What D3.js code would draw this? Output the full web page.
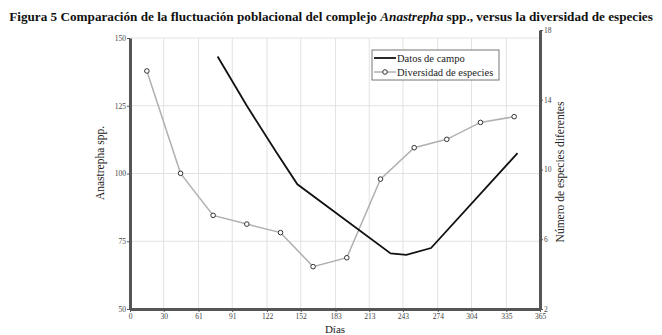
<!DOCTYPE html>
<html lang="es">
<head>
<meta charset="UTF-8">
<title>Figura 5</title>
<style>
  body { margin: 0; background: #fff; }
  svg text { font-family: "Liberation Serif", "DejaVu Serif", serif; }
</style>
</head>
<body>
<script src="https://d3js.org/d3.v7.min.js"></script>
<script>
// datos
const xTicks = [0, 30, 61, 91, 122, 152, 183, 213, 243, 274, 304, 335, 365];
const leftTicks = [50, 75, 100, 125, 150];
const rightTicks = [2, 6, 10, 14, 18];

const campoDias = [78, 104, 130, 149, 232, 246, 268, 345];
const campoVal = [143.2, 125, 108, 96, 70.5, 70, 72.5, 107.5];

const divDias = [15, 45, 74, 104, 134, 163, 193, 223, 253, 282, 312, 342];
const divVal = [15.65, 9.78, 7.37, 6.87, 6.38, 4.43, 4.94, 9.45, 11.25, 11.73, 12.7, 13.03];

const W = 662, H = 335;
const svg = d3.select("body").append("svg")
    .attr("width", W).attr("height", H);

// titulo
const title = svg.append("text")
    .attr("x", 331).attr("y", 21)
    .attr("text-anchor", "middle")
    .attr("font-weight", "bold")
    .attr("font-size", 13.2)
    .attr("fill", "#111");
title.append("tspan").text("Figura 5 Comparación de la fluctuación poblacional del complejo ");
title.append("tspan").attr("font-style", "italic").text("Anastrepha");
title.append("tspan").text(" spp., versus la diversidad de especies");

const x = d3.scaleLinear().domain([0, 365]).range([130, 540]);
const yL = d3.scaleLinear().domain([50, 150]).range([309, 38]);
const yR = d3.scaleLinear().domain([2, 18]).range([309, 30]);

// rejilla
svg.append("g").selectAll("line").data(xTicks).enter().append("line")
    .attr("x1", d => x(d)).attr("x2", d => x(d))
    .attr("y1", yL(150)).attr("y2", yL(50))
    .attr("stroke", "#e2e2e2").attr("stroke-width", 1);
svg.append("g").selectAll("line").data(leftTicks).enter().append("line")
    .attr("x1", x(0)).attr("x2", x(365))
    .attr("y1", d => yL(d)).attr("y2", d => yL(d))
    .attr("stroke", "#e2e2e2").attr("stroke-width", 1);

// ejes
function styleAxis(g) {
    g.attr("font-family", null);
    g.select(".domain").attr("stroke", "#555").attr("stroke-width", 3);
    g.selectAll(".tick line").attr("stroke", "#555");
    g.selectAll(".tick text")
        .attr("font-size", 7.5).attr("fill", "#444");
}

svg.append("g")
    .attr("transform", "translate(0," + yL(50) + ")")
    .call(d3.axisBottom(x).tickValues(xTicks).tickSize(3).tickSizeOuter(0).tickPadding(2))
    .call(styleAxis);

svg.append("g")
    .attr("transform", "translate(" + x(0) + ",0)")
    .call(d3.axisLeft(yL).tickValues(leftTicks).tickSize(3).tickSizeOuter(0).tickPadding(1))
    .call(styleAxis);

svg.append("g")
    .attr("transform", "translate(" + x(365) + ",0)")
    .call(d3.axisRight(yR).tickValues(rightTicks).tickSize(3).tickSizeOuter(0).tickPadding(1))
    .call(styleAxis);

// titulos de ejes
svg.append("text")
    .attr("x", x(182.5)).attr("y", 333)
    .attr("text-anchor", "middle")
    .attr("font-size", 11).attr("fill", "#222")
    .text("Días");

svg.append("text")
    .attr("transform", "translate(104,163) rotate(-90)")
    .attr("text-anchor", "middle")
    .attr("font-size", 11.5).attr("fill", "#222")
    .text("Anastrepha spp.");

svg.append("text")
    .attr("transform", "translate(564,172) rotate(-90)")
    .attr("text-anchor", "middle")
    .attr("font-size", 11.5).attr("fill", "#222")
    .text("Número de especies diferentes");

// series
const divData = divDias.map((d, i) => ({x: d, y: divVal[i]}));
const campoData = campoDias.map((d, i) => ({x: d, y: campoVal[i]}));

svg.append("path")
    .datum(divData)
    .attr("fill", "none")
    .attr("stroke", "#b0b0b0")
    .attr("stroke-width", 1.5)
    .attr("d", d3.line().x(d => x(d.x)).y(d => yR(d.y)));

svg.append("g").selectAll("circle").data(divData).enter().append("circle")
    .attr("cx", d => x(d.x)).attr("cy", d => yR(d.y))
    .attr("r", 2.3)
    .attr("fill", "#fff").attr("stroke", "#333").attr("stroke-width", 1);

svg.append("path")
    .datum(campoData)
    .attr("fill", "none")
    .attr("stroke", "#111")
    .attr("stroke-width", 1.8)
    .attr("d", d3.line().x(d => x(d.x)).y(d => yL(d.y)));

// leyenda
const lg = svg.append("g").attr("transform", "translate(372,50)");
lg.append("rect").attr("width", 127).attr("height", 30)
    .attr("fill", "#fff").attr("stroke", "#777").attr("stroke-width", 1);
lg.append("line").attr("x1", 2).attr("x2", 24).attr("y1", 8).attr("y2", 8)
    .attr("stroke", "#111").attr("stroke-width", 1.8);
lg.append("text").attr("x", 25).attr("y", 11.5)
    .attr("font-size", 10.5).attr("fill", "#222").text("Datos de campo");
lg.append("line").attr("x1", 2).attr("x2", 24).attr("y1", 22).attr("y2", 22)
    .attr("stroke", "#b0b0b0").attr("stroke-width", 1.5);
lg.append("circle").attr("cx", 13).attr("cy", 22).attr("r", 2.3)
    .attr("fill", "#fff").attr("stroke", "#333").attr("stroke-width", 1);
lg.append("text").attr("x", 25).attr("y", 25.5)
    .attr("font-size", 10.5).attr("fill", "#222").text("Diversidad de especies");
</script>
</body>
</html>
